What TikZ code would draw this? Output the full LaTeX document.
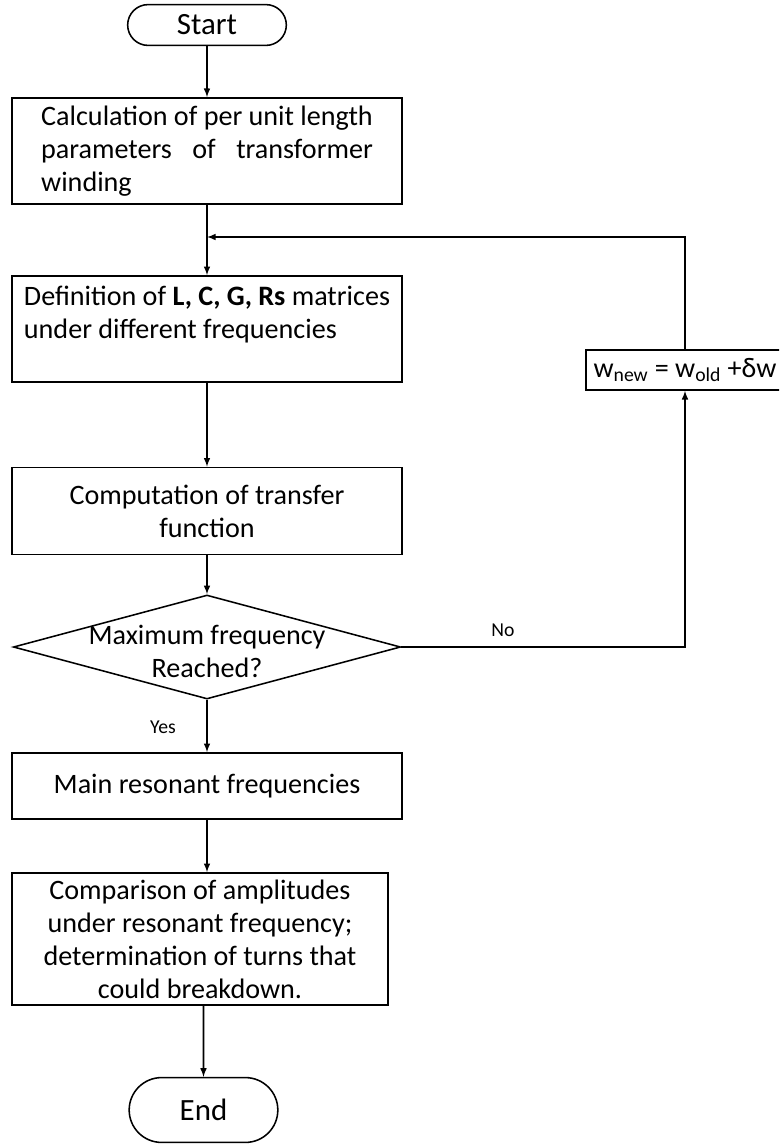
\documentclass[tikz,border=0pt]{standalone}
\usepackage{fontspec}
\usepackage{calc}
\setmainfont{Carlito}
\usetikzlibrary{shapes.geometric,shapes.misc}

\newcommand\calcline{Calculation of per unit length}

\begin{document}
\begin{tikzpicture}[x=0.025cm,y=-0.025cm,>=latex,
    every node/.style={font=\fontsize{20}{23.5}\selectfont},
    terminal/.style={draw,rounded rectangle,line width=1.1pt,minimum height=1.02cm,font=\fontsize{22}{26}\selectfont},
    process/.style={draw,line width=1.3pt,minimum width=9.75cm,align=center},
    decision/.style={draw,diamond,line width=1.1pt,inner sep=0pt,minimum width=9.68cm,minimum height=2.6cm},
    answer/.style={font=\fontsize{14}{16}\selectfont},
    flow/.style={line width=1.1pt}]
        \useasboundingbox (0,0) rectangle (779,1146);
        \clip (0,0) rectangle (779,1146);

        % Start / End
        \node[terminal,minimum width=4.2cm] (start) at (207,25) {Start};
        \node[terminal,minimum width=3.95cm,minimum height=1.62cm] (stop) at (203.5,1110) {End};

        % Process boxes
        \node[process,minimum height=2.65cm,align=left] (calc) at (207,151)
            {\calcline\\ \makebox[\widthof{\calcline}][s]{parameters of transformer}\\ winding};
        \node[process,minimum height=2.65cm,align=left,inner sep=2pt] (def) at (207,329)
            {Definition of \textbf{L, C, G, Rs} matrices\\ under different frequencies\\ ~};
        \node[process,minimum height=2.175cm] (comp) at (207,511) {Computation of transfer\\ function};
        \node[process,minimum height=1.65cm] (main) at (207,786) {Main resonant frequencies};
        \node[process,minimum width=9.4cm,minimum height=3.3cm] (cmp) at (200,939)
            {Comparison of amplitudes\\ under resonant frequency;\\ determination of turns that\\ could breakdown.};

        % Decision
        \node[decision] (dec) at (207,647) {};
        \node[align=center] (dectext) at (207,651) {Maximum frequency\\ Reached?};

        % Frequency update
        \node[process,minimum width=4.95cm,minimum height=1cm] (upd) at (685,370)
            {w\textsubscript{new} = w\textsubscript{old} +δw};
        \coordinate (loop) at (207,237);

        % Main flow
        \draw[flow,->] (start) -- (calc);
        \draw[flow,->] (calc) -- (def);
        \draw[flow,->] (def) -- (comp);
        \draw[flow,->] (comp) -- (dec);
        \draw[flow,->] (dec) -- (main);
        \draw[flow,->] (main.south) -- (main.south |- cmp.north);
        \draw[flow,->] (cmp.south -| stop.north) -- (stop);

        % Feedback loop
        \draw[flow,->] (dec.east) -- (upd.south |- dec.east) -- (upd.south);
        \draw[flow,->] (upd.north) -- (upd.north |- loop) -- (loop);

        % Labels
        \node[answer] (no) at (503,630) {No};
        \node[answer] (yes) at (163,727) {Yes};

      \end{tikzpicture}
\end{document}
